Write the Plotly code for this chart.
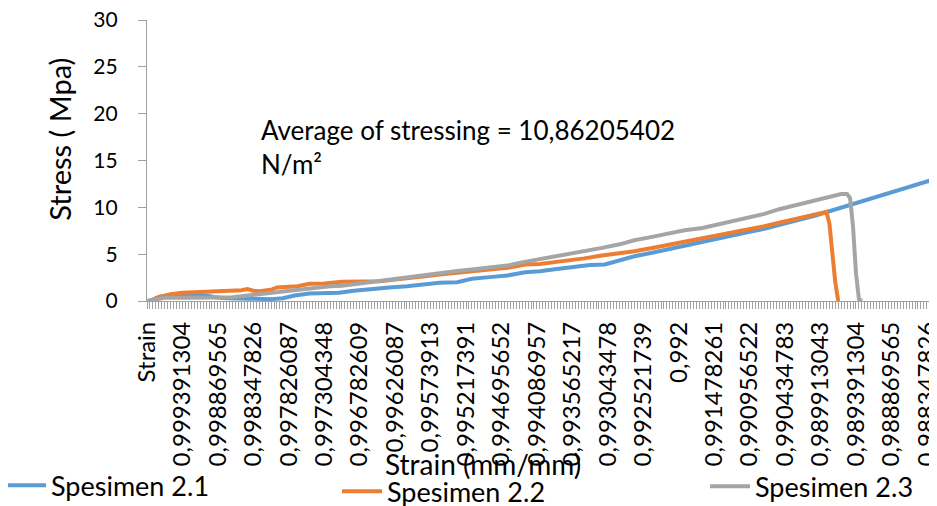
import plotly.graph_objects as go

# ---- data ----
tick_labels = ["Strain", "0,999391304", "0,998869565", "0,998347826", "0,997826087",
               "0,997304348", "0,996782609", "0,99626087", "0,99573913", "0,995217391",
               "0,994695652", "0,994086957", "0,993565217", "0,993043478", "0,992521739",
               "0,992", "0,991478261", "0,990956522", "0,990434783", "0,989913043",
               "0,989391304", "0,988869565", "0,988347826"]

s21_idx = [0, 2, 4, 7, 12, 20, 23, 27, 35, 42, 46, 50, 55, 60, 65, 70, 76, 82, 88, 94,
           99, 105, 110, 116, 122, 128, 133, 138, 143, 150, 155, 160, 165, 171, 177, 182,
           188, 193, 199, 204, 209, 214, 220, 226, 231, 237, 242, 248, 254, 259, 263, 265,
           266, 267, 268]
s21_val = [0, 0.1, 0.45, 0.62, 0.65, 0.6, 0.4, 0.3, 0.25, 0.2, 0.3, 0.58, 0.8, 0.87, 0.87,
           1.1, 1.3, 1.45, 1.58, 1.75, 1.94, 2.0, 2.37, 2.55, 2.72, 3.07, 3.18, 3.4, 3.6,
           3.85, 3.9, 4.35, 4.78, 5.15, 5.56, 5.95, 6.38, 6.72, 7.09, 7.4, 7.7, 8.15, 8.62,
           9.1, 9.58, 10.1, 10.64, 11.15, 11.71, 12.2, 12.6, 12.85, 12.3, 5.0, 0.0]

s22_idx = [0, 1, 3, 6, 8, 12, 19, 28, 32, 34, 36, 38, 42, 44, 51, 55, 60, 66, 73, 79, 84,
           88, 94, 99, 105, 110, 116, 122, 128, 133, 138, 143, 148, 154, 160, 165, 171,
           177, 182, 188, 193, 199, 204, 209, 214, 220, 225, 228, 230, 231, 232, 233, 234]
s22_val = [0, 0.0, 0.3, 0.6, 0.72, 0.87, 0.98, 1.05, 1.15, 1.28, 1.1, 1.05, 1.2, 1.45,
           1.58, 1.83, 1.87, 2.05, 2.1, 2.12, 2.3, 2.47, 2.65, 2.83, 3.0, 3.18, 3.35, 3.54,
           3.9, 3.96, 4.15, 4.32, 4.55, 4.85, 5.05, 5.31, 5.65, 6.02, 6.3, 6.66, 6.95, 7.27,
           7.65, 7.98, 8.35, 8.76, 9.1, 9.35, 9.51, 8.3, 5.2, 2.0, 0.0]

s23_idx = [0, 3, 6, 15, 25, 29, 32, 36, 39, 43, 46, 50, 54, 58, 62, 66, 71, 75, 79, 84,
           88, 94, 99, 105, 110, 116, 122, 126, 131, 137, 143, 148, 154, 160, 165, 171,
           177, 182, 188, 193, 198, 203, 209, 214, 220, 225, 231, 235, 237, 238, 239, 240,
           241, 242]
s23_val = [0, 0.2, 0.34, 0.36, 0.34, 0.4, 0.51, 0.65, 0.76, 0.9, 1.05, 1.15, 1.3, 1.45,
           1.58, 1.62, 1.83, 2.0, 2.13, 2.3, 2.5, 2.7, 3.0, 3.2, 3.36, 3.55, 3.78, 4.07,
           4.35, 4.65, 4.96, 5.3, 5.67, 6.05, 6.48, 6.85, 7.27, 7.55, 7.8, 8.15, 8.5, 8.9,
           9.3, 9.8, 10.29, 10.7, 11.18, 11.43, 11.43, 11.0, 8.0, 3.0, 0.2, 0.0]

series_names = ["Spesimen 2.1", "Spesimen 2.2", "Spesimen 2.3"]
colors = ["#5B9BD5", "#ED7D31", "#A5A5A5"]

# ---- figure (page body adds an 8px offset, so coordinates below are page - 8) ----
OFF = 8
W, H = 937 - OFF, 506 - OFF
ML, MR, MT = 147 - OFF, 0, 20 - OFF
PLOT_BOTTOM = 301.5 - OFF
MB = H - PLOT_BOTTOM
PW, PH = W - ML - MR, PLOT_BOTTOM - MT
FONT = "Lato"
AX = "#A0A0A0"

def px_x(p):
    return (p - OFF - ML) / PW

def px_y(p):
    return (PLOT_BOTTOM - (p - OFF)) / PH

fig = go.Figure()
for name, xs, ys, c, lg in zip(series_names, [s21_idx, s22_idx, s23_idx],
                               [s21_val, s22_val, s23_val], colors,
                               ["legend", "legend2", "legend3"]):
    fig.add_trace(go.Scatter(x=xs, y=ys, mode="lines", name=name, legend=lg,
                             line=dict(color=c, width=4)))

tick_step = 12
leg_font = dict(size=27, family=FONT, color="#000000")
leg_common = dict(xanchor="left", yanchor="top", font=leg_font,
                  bgcolor="rgba(0,0,0,0)", itemwidth=40)
fig.update_layout(
    width=W, height=H,
    margin=dict(l=ML, r=MR, t=MT, b=MB, autoexpand=False),
    paper_bgcolor="white", plot_bgcolor="white",
    font=dict(family=FONT, color="#000000"),
    showlegend=True,
    legend=dict(x=px_x(1), y=px_y(462), **leg_common),
    legend2=dict(x=px_x(337), y=px_y(468), **leg_common),
    legend3=dict(x=px_x(705), y=px_y(463), **leg_common),
    xaxis=dict(range=[0, PW / 2.954], showgrid=False, zeroline=False,
               showline=True, linecolor=AX, linewidth=1.3,
               tickmode="array",
               tickvals=[i * tick_step for i in range(len(tick_labels))],
               ticktext=tick_labels, tickangle=-90,
               ticks="outside", ticklen=7, tickcolor=AX, tickwidth=1.2,
               minor=dict(tickmode="linear", tick0=0, dtick=1, ticks="outside",
                          ticklen=7, tickcolor=AX, tickwidth=1.2),
               tickfont=dict(size=24, family=FONT, color="#000000"),
               ticklabelstandoff=3, ticklabeloverflow="allow", automargin=False),
    yaxis=dict(range=[0, 30], dtick=5, showgrid=False, zeroline=False,
               showline=True, linecolor=AX, linewidth=1.3,
               ticks="outside", ticklen=8, tickcolor=AX, tickwidth=1.2,
               tickfont=dict(size=21, family=FONT, color="#000000"),
               ticklabelstandoff=16, ticklabeloverflow="allow", automargin=False),
)

fig.add_annotation(text="Average of stressing = 10,86205402<br>N/m²",
                   xref="paper", yref="paper", x=px_x(259), y=px_y(112),
                   xanchor="left", yanchor="top", align="left", showarrow=False,
                   font=dict(size=26, family=FONT, color="#000000"))
fig.add_annotation(text="Stress ( Mpa)", xref="paper", yref="paper",
                   x=px_x(60), y=px_y(140), xanchor="center", yanchor="middle",
                   textangle=-90, showarrow=False,
                   font=dict(size=29, family=FONT, color="#000000"))
fig.add_annotation(text="Strain (mm/mm)", xref="paper", yref="paper",
                   x=px_x(483), y=px_y(465), xanchor="center", yanchor="middle",
                   showarrow=False, font=dict(size=28, family=FONT, color="#000000"))

fig.write_html("out.html",
               post_script="document.documentElement.style.overflow='hidden';"
                           "document.body.style.overflow='hidden';")
